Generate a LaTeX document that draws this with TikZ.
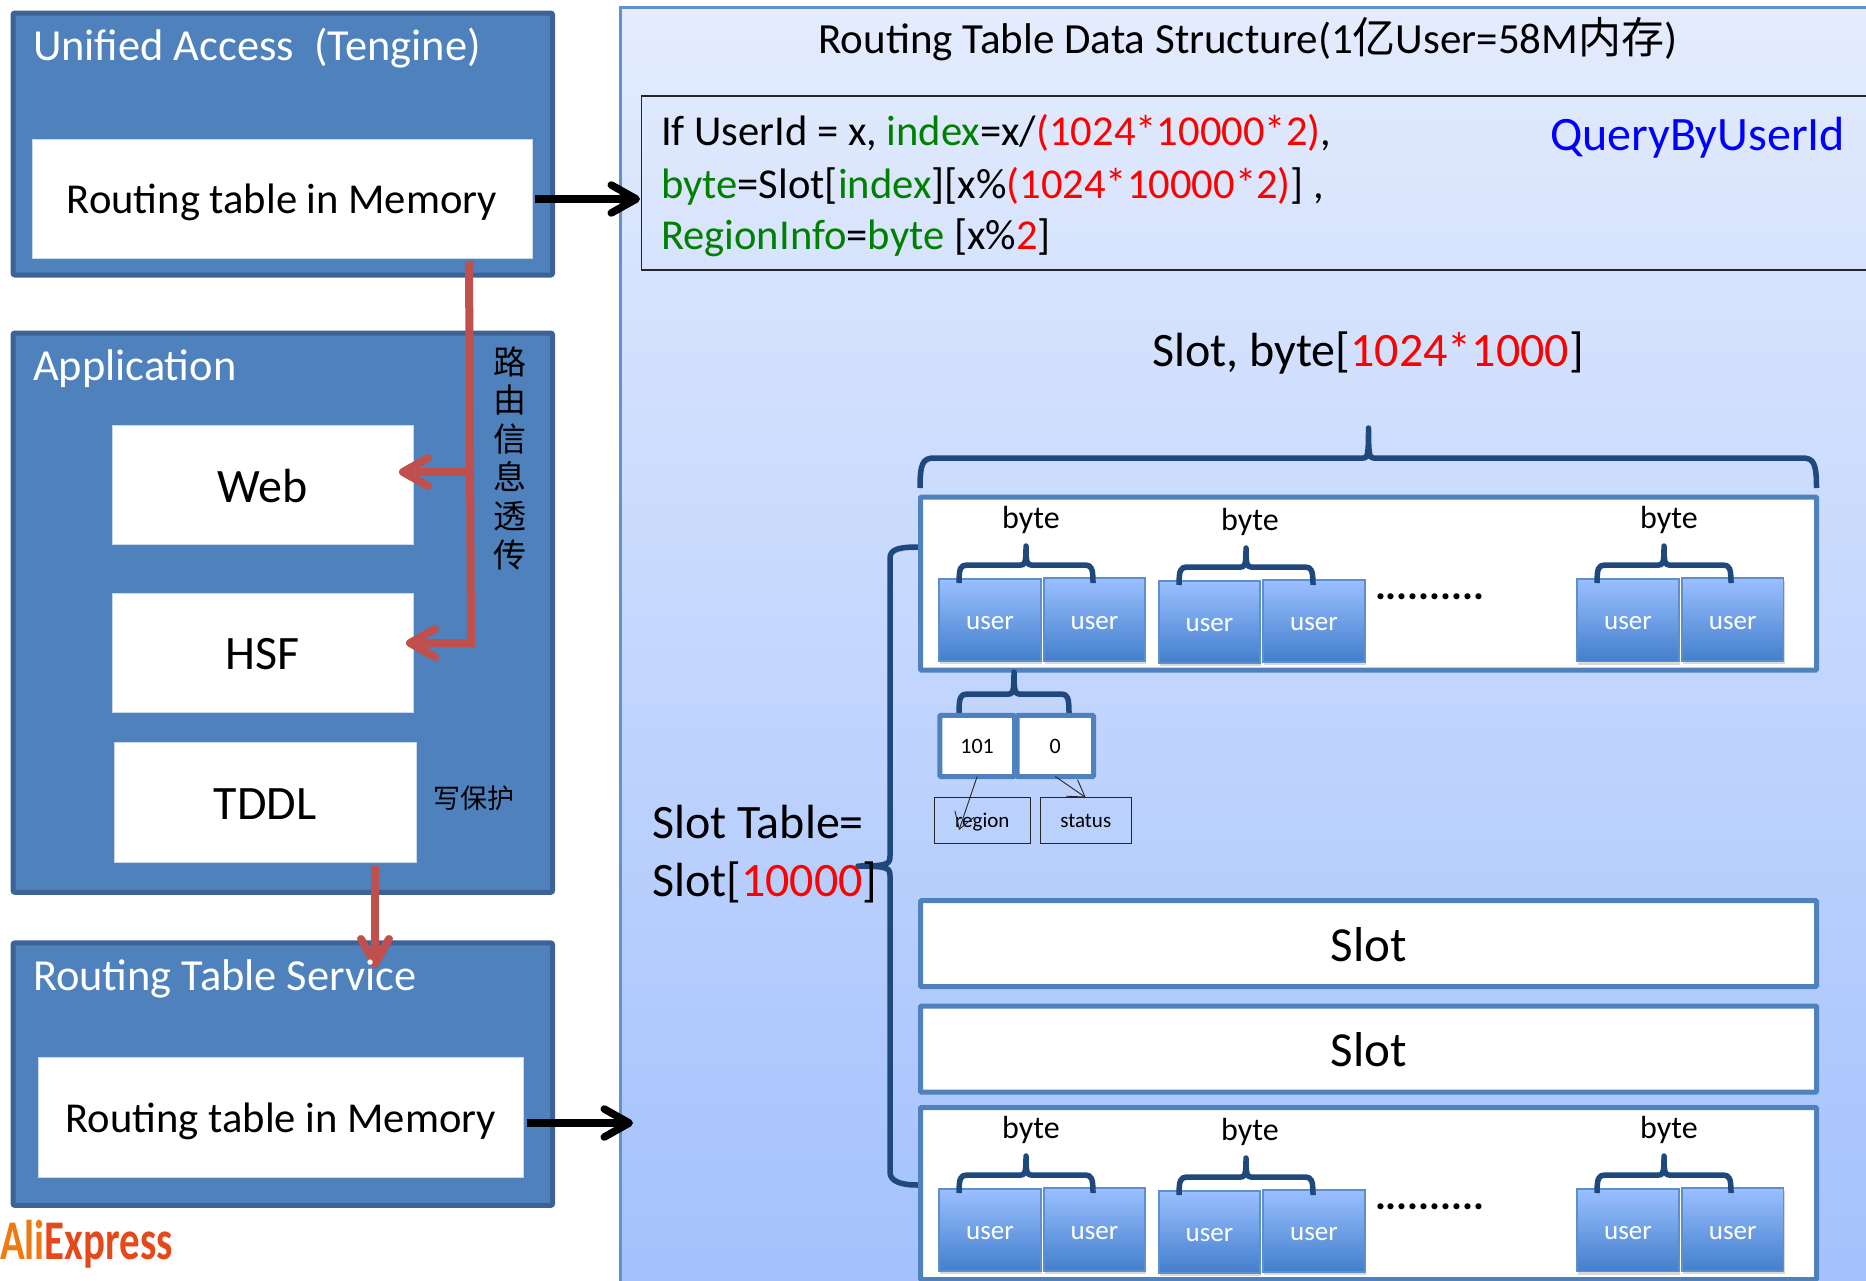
\documentclass[tikz,border=0pt]{standalone}
\usepackage{fontspec}
\usetikzlibrary{arrows.meta,shadows,calc}
\setmainfont{Carlito}
\newfontfamily\cjk{Noto Sans CJK SC}
\definecolor{outerfill}{HTML}{4F81BD}
\definecolor{outerline}{HTML}{3D6396}
\definecolor{braceblue}{HTML}{1F497D}
\definecolor{redline}{HTML}{C0504D}
\definecolor{slotline}{HTML}{4F81BD}
\definecolor{ggreen}{HTML}{008000}
\definecolor{userTop}{HTML}{9BBFFF}
\definecolor{userBot}{HTML}{427FCC}
\definecolor{userLine}{HTML}{5C8FCC}
\definecolor{panelTop}{HTML}{E4ECFD}
\definecolor{panelBot}{HTML}{A3C1FD}
\definecolor{panelLine}{HTML}{6091D0}
\newcommand\fs[1]{\fontsize{#1}{#1}\selectfont}
\newcommand\ct[1]{\rule{0pt}{.72em}\smash{#1}}
\newcommand\rdt[1]{\textcolor{red}{#1}}
\newcommand\gnt[1]{\textcolor{ggreen}{#1}}
\newcommand\rectnode[7][]{%
  \pgfmathsetmacro\rw{(#5)-(#3)}\pgfmathsetmacro\rh{(#6)-(#4)}%
  \pgfmathsetmacro\rcx{((#5)+(#3))/2}\pgfmathsetmacro\rcy{((#6)+(#4))/2}%
  \node[rectbase,minimum width=\rw pt,minimum height=\rh pt,#1] (#2) at (\rcx,\rcy) {#7};}
\newcommand\bracepath[7]{%
  \draw[bracestyle] (#1,#5) .. controls (#1,#4+0.4*#7) and (#1+0.2*#7,#4) .. (#1+#7,#4)
    -- (#3-5,#4) .. controls (#3-1,#4) and (#3,#4-3) .. (#3,#6)
    .. controls (#3,#4-3) and (#3+1,#4) .. (#3+5,#4)
    -- (#2-#7,#4) .. controls (#2-0.2*#7,#4) and (#2,#4+0.4*#7) .. (#2,#5);}
\tikzset{
  rectbase/.style={rectangle,inner sep=0pt,outer sep=0pt,align=center},
  sz/.style={font=\fs{#1}},
  outerbox/.style={fill=outerfill,draw=outerline,line width=5pt,rounded corners=2pt},
  whitebox/.style={fill=white,draw=white!70!outerfill,line width=1pt},
  slotbox/.style={fill=white,draw=slotline,line width=5pt,rounded corners=1pt},
  userbox/.style={top color=userTop,bottom color=userBot,draw=userLine,line width=1.5pt,text=white,sz=27,
    drop shadow={opacity=.3,shadow xshift=1pt,shadow yshift=-3pt}},
  thinbox/.style={draw=black!85,line width=1pt,sz=21},
  label/.style={inner sep=0pt,outer sep=0pt},
  bracestyle/.style={draw=braceblue,line width=5.5pt,line join=round,
    preaction={draw=black,opacity=.13,transform canvas={shift={(1pt,-3pt)}}}},
  blackarrow/.style={draw=black,line width=7.5pt,-{Straight Barb[length=25pt,width=28pt,round]},
    preaction={draw=black,opacity=.15,transform canvas={shift={(1pt,-3pt)}}}},
  redarrow/.style={draw=redline,line width=8pt,-{Straight Barb[length=25pt,width=28pt,round]},
    preaction={draw=black,opacity=.15,transform canvas={shift={(1pt,-3pt)}}}},
  thinarrow/.style={draw=black!85,line width=.9pt,-{Straight Barb[length=16pt,width=20pt]}},
}
\begin{document}
\begin{tikzpicture}[x=1pt,y=-1pt]
\useasboundingbox (0,0) rectangle (1866,1280);
\clip (0,0) rectangle (1866,1280);
% ---------- right panel
\rectnode[top color=panelTop,bottom color=panelBot,draw=panelLine,line width=3pt]{panel}{620.5}{7}{1880}{1290}{}
\rectnode[draw=black!85,line width=1.5pt]{formula}{641.5}{96}{1880}{270}{}
\node[label,sz=43,anchor=base] (title) at (1248,53) {Routing Table Data Structure(1{\cjk 亿}User=58M{\cjk 内存})};
\node[label,sz=42.6,anchor=base west] (f1) at (661,145) {If UserId = x, \gnt{index}=x/\rdt{(1024*10000*2)},};
\node[label,sz=42.6,anchor=base west] (f2) at (661,198) {\gnt{byte}=Slot[\gnt{index}][x\%\rdt{(1024*10000*2)}] ,};
\node[label,sz=42.6,anchor=base west] (f3) at (661,249) {\gnt{RegionInfo}=\gnt{byte} [x\%\rdt{2}]};
\node[label,sz=48,anchor=base west,text=blue] (query) at (1550,150) {QueryByUserId};
\node[label,sz=48,anchor=base] (slotbyte) at (1368,366) {Slot, byte[\rdt{1024*1000}]};
\bracepath{920}{1816.5}{1368.5}{458}{488}{428}{14}
% ---------- left brace
\draw[bracestyle] (918,547) .. controls (900,547) and (890,549) .. (890,558) -- (890,856)
  .. controls (890,864) and (888,866) .. (858,866) .. controls (888,866) and (890,868) .. (890,876)
  -- (890,1172) .. controls (890,1181) and (900,1185) .. (918,1185);
\node[label,sz=48,anchor=base west] (slottable) at (652,838) {Slot Table=};
\node[label,sz=48,anchor=base west] (slotarr) at (652,896) {Slot[\rdt{10000}]};
% ---------- slots
\rectnode[slotbox]{rowa}{920.5}{497}{1816.5}{670}{}
\rectnode[slotbox,sz=49]{slotA}{920.5}{900.7}{1816.5}{986.5}{\ct{Slot}}
\rectnode[slotbox,sz=49]{slotB}{920.5}{1006}{1816.5}{1092}{\ct{Slot}}
\rectnode[slotbox]{rowb}{920.5}{1107.5}{1816.5}{1279.5}{}
\foreach \r/\dy in {a/0,b/610}{
  \foreach \i/\xa/\ya/\xb/\yb in {1/939/579/1041/661,2/1044/578/1145/661,3/1159/581/1260/663,4/1263/580/1365/662,5/1577/579/1679/661.5,6/1682/578/1783.5/661}{
    \rectnode[userbox]{u\r\i}{\xa}{\ya+\dy}{\xb}{\yb+\dy}{\ct{user}}
  }
  \bracepath{959}{1093}{1026}{565+\dy}{583+\dy}{546+\dy}{8}
  \bracepath{1179}{1313}{1246}{567+\dy}{585+\dy}{548+\dy}{8}
  \bracepath{1597}{1731}{1664}{565+\dy}{583+\dy}{546+\dy}{8}
  \node[label,sz=32,anchor=base] (by\r1) at (1031,528+\dy) {byte};
  \node[label,sz=32,anchor=base] (by\r2) at (1250,530+\dy) {byte};
  \node[label,sz=32,anchor=base] (by\r3) at (1669,528+\dy) {byte};
  \node[label,anchor=base west,font=\fs{41}\bfseries] (dots\r) at (1375,599+\dy) {..........};
}
% ---------- 101 / 0
\bracepath{959}{1069}{1014}{694}{713}{672}{8}
\rectnode[slotbox,sz=22]{nA}{939.8}{715.3}{1014.5}{776.5}{\ct{101}}
\rectnode[slotbox,sz=22]{nB}{1017}{715.3}{1093.5}{776.5}{\ct{0}}
\rectnode[thinbox]{region}{934.5}{797.5}{1030}{843}{\ct{region}}
\rectnode[thinbox]{status}{1040}{797.5}{1131.5}{843}{\ct{status}}
\coordinate (regEnd) at (959,830);
\draw[thinarrow] (nA.south) -- (regEnd);
\draw[thinarrow] (nB.south) -- (status.north);
% ---------- left column
\rectnode[outerbox]{unified}{13}{13}{552.6}{275}{}
\rectnode[outerbox]{app}{13}{333}{552.6}{892.3}{}
\rectnode[outerbox]{rts}{13}{942.9}{552.6}{1205.4}{}
\node[label,sz=44.4,anchor=base west,text=white] (tU) at (33,60) {Unified Access\ \ (Tengine)};
\node[label,sz=44.4,anchor=base west,text=white] (tA) at (33,380) {Application};
\rectnode[whitebox,sz=42.6]{tableA}{32}{139}{532}{258}{\ct{Routing table in Memory}}
\rectnode[whitebox,sz=48]{web}{112}{425}{413.5}{544.5}{\ct{Web}}
\rectnode[whitebox,sz=48]{hsf}{112}{593}{413.5}{712}{\ct{HSF}}
\rectnode[whitebox,sz=48]{tddl}{114}{742.5}{416}{862.5}{\ct{TDDL}}
\rectnode[whitebox,sz=42.6]{tableB}{38}{1057.5}{523.7}{1177}{\ct{Routing table in Memory}}
\node[label,align=center,font=\fs{33}\cjk,anchor=center] (route) at (510,458) {路\\[5.6pt]由\\[5.6pt]信\\[5.6pt]息\\[5.6pt]透\\[5.6pt]传};
\node[label,font=\fs{27}\cjk,anchor=center] (wp) at (474,798) {写保护};
% ---------- connectors
\coordinate (aEnd) at (640,199);
\coordinate (bEnd) at (633,1123);
\coordinate (redTop) at (469,261);
\coordinate (redBend) at (471,643);
\coordinate (hsfTip) at (406,643);
\coordinate (webTip) at (399,472);
\coordinate (webStart) at (473,472);
\coordinate (tddlEnd) at (375,968);
\draw[blackarrow] (tableA.east |- aEnd) ++(3,0) -- (aEnd);
\draw[blackarrow] (tableB.east |- bEnd) ++(3,0) -- (bEnd);
\draw[redarrow,line join=miter] (redTop) -- (redBend) -- (hsfTip);
\draw[redarrow] (webStart) -- (webTip);
\draw[redarrow] (tddl.south -| tddlEnd) ++(0,3) -- (tddlEnd);
\node[label,sz=44.4,anchor=base west,text=white] (tR) at (33,990) {Routing Table Service};
\node[label,anchor=base west,font=\fs{56}\bfseries] (logo) at (0,1259) {\scalebox{.73}[1]{\textcolor[HTML]{EE7A12}{Ali}\textcolor[HTML]{E5481A}{Express}}};
\end{tikzpicture}
\end{document}
